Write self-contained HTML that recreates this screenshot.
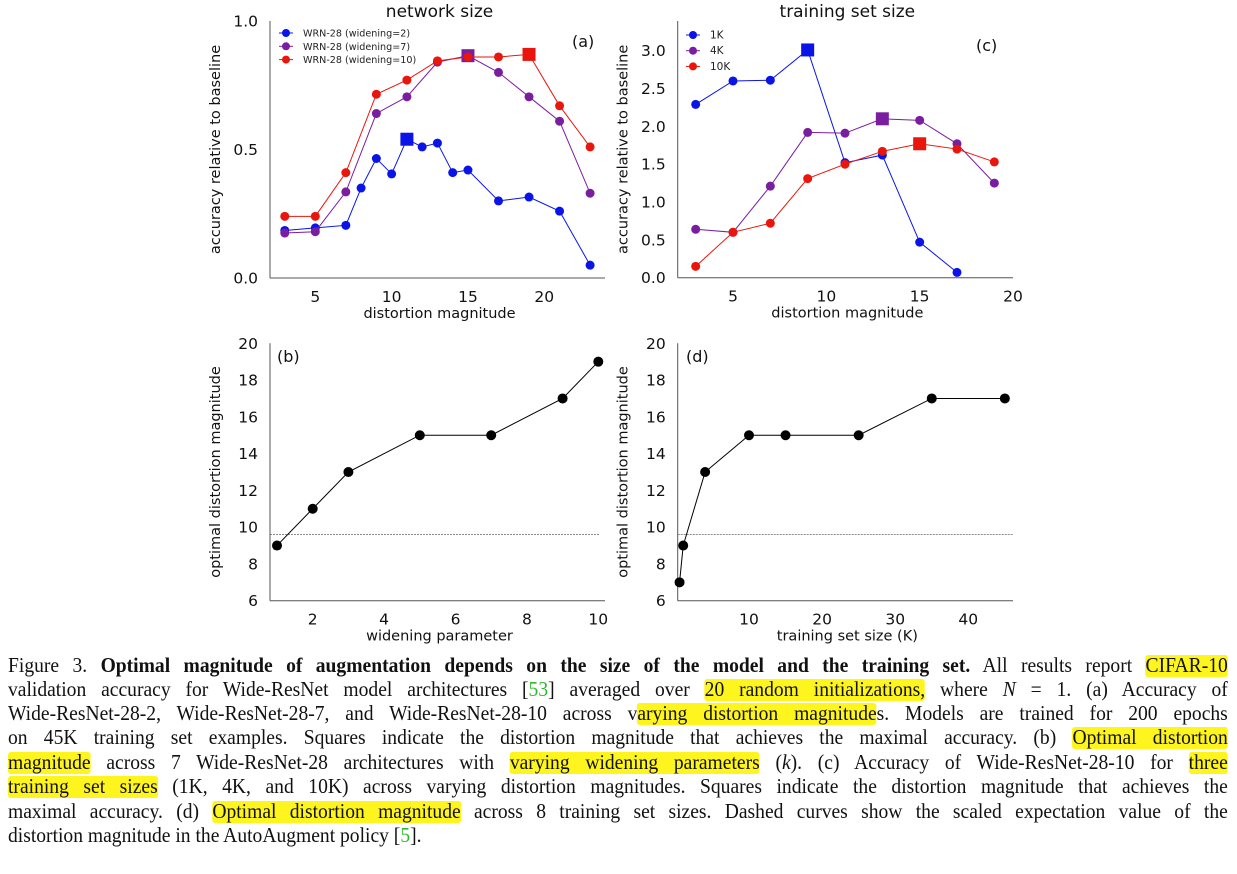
<!DOCTYPE html>
<html><head><meta charset="utf-8">
<style>
body{margin:0;background:#fff;width:1237px;height:874px;overflow:hidden;position:relative}
svg{position:absolute;left:0;top:0}
.cap{position:absolute;left:8px;width:1284px;transform:scaleX(0.95);transform-origin:0 0;font-family:"Liberation Serif",serif;font-size:20.6px;line-height:24px;height:24px;text-align:justify;text-align-last:justify;white-space:nowrap;color:#111}
.cap.last{text-align-last:left}
.hl{background:#fff51e;border-radius:3px}
.g{color:#2dbb2d}
</style></head><body>
<svg id="fig" width="1237" height="650" font-family="DejaVu Sans, Liberation Sans, sans-serif"></svg>

<div class="cap" style="top:654px">Figure 3. <b>Optimal magnitude of augmentation depends on the size of the model and the training set.</b> All results report <span class="hl">CIFAR-10</span></div>
<div class="cap" style="top:678px">validation accuracy for Wide-ResNet model architectures [<span class="g">53</span>] averaged over <span class="hl">20 random initializations,</span> where <i>N</i> = 1. (a) Accuracy of</div>
<div class="cap" style="top:702px">Wide-ResNet-28-2, Wide-ResNet-28-7, and Wide-ResNet-28-10 across v<span class="hl">arying distortion magnitude</span>s. Models are trained for 200 epochs</div>
<div class="cap" style="top:726px">on 45K training set examples. Squares indicate the distortion magnitude that achieves the maximal accuracy. (b) <span class="hl">Optimal distortion</span></div>
<div class="cap" style="top:751px"><span class="hl">magnitude</span> across 7 Wide-ResNet-28 architectures with <span class="hl">varying widening parameters</span> (<i>k</i>). (c) Accuracy of Wide-ResNet-28-10 for <span class="hl">three</span></div>
<div class="cap" style="top:775px"><span class="hl">training set sizes</span> (1K, 4K, and 10K) across varying distortion magnitudes. Squares indicate the distortion magnitude that achieves the</div>
<div class="cap" style="top:800px">maximal accuracy. (d) <span class="hl">Optimal distortion magnitude</span> across 8 training set sizes. Dashed curves show the scaled expectation value of the</div>
<div class="cap last" style="top:824px">distortion magnitude in the AutoAugment policy [<span class="g">5</span>].</div>

<script>
// ---- Panel (a) data ----
const aX_blue = [3,5,7,8,9,10,11,12,13,14,15,17,19,21,23];
const aY_blue = [0.185,0.195,0.205,0.35,0.465,0.405,0.54,0.51,0.525,0.41,0.42,0.30,0.315,0.26,0.05];
const aX_other = [3,5,7,9,11,13,15,17,19,21,23];
const aY_purple = [0.175,0.18,0.335,0.64,0.705,0.84,0.865,0.80,0.705,0.61,0.33];
const aY_red = [0.24,0.24,0.41,0.715,0.77,0.845,0.86,0.86,0.87,0.67,0.51];
const aBest = [11,15,19];
const aLabels = ["WRN-28 (widening=2)","WRN-28 (widening=7)","WRN-28 (widening=10)"];
const aXTicks = [5,10,15,20];
const aYTicks = [0.0,0.5,1.0];
// ---- Panel (c) data ----
const cX1K = [3,5,7,9,11,13,15,17];
const cY1K = [2.29,2.60,2.61,3.01,1.52,1.62,0.47,0.07];
const cX = [3,5,7,9,11,13,15,17,19];
const cY4K = [0.64,0.60,1.21,1.92,1.91,2.10,2.08,1.77,1.25];
const cY10K = [0.15,0.60,0.72,1.31,1.50,1.67,1.77,1.70,1.53];
const cBest = [9,13,15];
const cLabels = ["1K","4K","10K"];
const cXTicks = [5,10,15,20];
const cYTicks = [0.0,0.5,1.0,1.5,2.0,2.5,3.0];
// ---- Panel (b) data ----
const bX = [1,2,3,5,7,9,10];
const bY = [9,11,13,15,15,17,19];
const bXTicks = [2,4,6,8,10];
const bYTicks = [6,8,10,12,14,16,18,20];
const bDash = 9.6;
// ---- Panel (d) data ----
const dX = [0.5,1,4,10,15,25,35,45];
const dY = [7,9,13,15,15,15,17,17];
const dXTicks = [10,20,30,40];
const dYTicks = [6,8,10,12,14,16,18,20];
const dDash = 9.6;

const NS="http://www.w3.org/2000/svg";
const svg=document.getElementById('fig');
function mk(tag,attrs,parent){const e=document.createElementNS(NS,tag);for(const k in attrs)e.setAttribute(k,attrs[k]);(parent||svg).appendChild(e);return e;}
function lin(d0,d1,r0,r1){return v=>r0+(v-d0)*(r1-r0)/(d1-d0);}
const COL={blue:"#0a14e6",purple:"#7a1ea0",red:"#e8160c"};

function axes(name,L,R,T,B,sx,sy,xt,yt,fmt,xlabel,ylabel,title,tag){
  const g=mk('g',{});
  
  
  mk('line',{x1:L,y1:T,x2:L,y2:B,stroke:'#555','stroke-width':1},g);
  mk('line',{x1:L,y1:B,x2:R,y2:B,stroke:'#555','stroke-width':1},g);
  xt.forEach(v=>{const t=mk('text',{x:sx(v),y:B+24,'font-size':15.5,'text-anchor':'middle',fill:'#111'},g);t.textContent=v;
    });
  yt.forEach(v=>{const t=mk('text',{x:L-12,y:sy(v)+5.5,'font-size':15.5,'text-anchor':'end',fill:'#111'},g);t.textContent=fmt(v);
    });
  const xl=mk('text',{x:(L+R)/2+2,y:B+40,'font-size':14.5,'text-anchor':'middle',fill:'#111'},g);xl.textContent=xlabel;
  
  const yl=mk('text',{x:0,y:0,'font-size':14.5,'text-anchor':'middle',fill:'#111',transform:`translate(${L-50},${(T+B)/2}) rotate(-90)`},g);yl.textContent=ylabel;
  
  if(title){const tt=mk('text',{x:(L+R)/2+2,y:T-4,'font-size':17,'text-anchor':'middle',fill:'#111'},g);tt.textContent=title;
    }
  const tg=mk('text',{x:tag[0],y:tag[1],'font-size':16,fill:'#111'},g);tg.textContent=tag[2];
  
  return g;
}
function series(name,xs,ys,sx,sy,col,best,r){
  const g=mk('g',{});
  
  
  const pts=xs.map((x,i)=>sx(x)+','+sy(ys[i])).join(' ');
  mk('polyline',{points:pts,fill:'none',stroke:col,'stroke-width':1},g);
  xs.forEach((x,i)=>{
    if(best!==null && x===best){
      const s=mk('rect',{x:sx(x)-6.5,y:sy(ys[i])-6.5,width:13,height:13,fill:col},g);
      
    } else {
      const c=mk('circle',{cx:sx(x),cy:sy(ys[i]),r:r,fill:col},g);
      
    }
  });
}
function legend(name,x,y,labels,cols,dy,fs,len){
  const g=mk('g',{});
  
  
  labels.forEach((lb,i)=>{
    const yy=y+i*dy;
    mk('line',{x1:x,y1:yy,x2:x+len,y2:yy,stroke:cols[i],'stroke-width':1},g);
    mk('circle',{cx:x+len/2,cy:yy,r:4,fill:cols[i]},g);
    const t=mk('text',{x:x+len+10,y:yy+3.5,'font-size':fs,fill:'#222'},g);t.textContent=lb;
    
  });
}

// Panel (a)
{const sx=lin(5,20,315.3,544.3), sy=lin(0,1,278,21);
 axes('panel-a-axes',270,605,21,278,sx,sy,aXTicks,aYTicks,v=>v.toFixed(1),'distortion magnitude','accuracy relative to baseline','network size',[572,47,'(a)']);
 series('series-widening-2',aX_blue,aY_blue,sx,sy,COL.blue,aBest[0],4.5);
 series('series-widening-7',aX_other,aY_purple,sx,sy,COL.purple,aBest[1],4.5);
 series('series-widening-10',aX_other,aY_red,sx,sy,COL.red,aBest[2],4.5);
 legend('legend-a',279,33,aLabels,[COL.blue,COL.purple,COL.red],13.3,9.6,14);}
// Panel (c)
{const sx=lin(5,20,733,1013), sy=lin(0,3,277.7,50.7);
 axes('panel-c-axes',677.7,1013,21,277.7,sx,sy,cXTicks,cYTicks,v=>v.toFixed(1),'distortion magnitude','accuracy relative to baseline','training set size',[976,51,'(c)']);
 series('series-1k',cX1K,cY1K,sx,sy,COL.blue,cBest[0],4.5);
 series('series-4k',cX,cY4K,sx,sy,COL.purple,cBest[1],4.5);
 series('series-10k',cX,cY10K,sx,sy,COL.red,cBest[2],4.5);
 legend('legend-c',686,35,cLabels,[COL.blue,COL.purple,COL.red],15.7,10.5,14);}
// Panel (b)
{const sx=lin(2,10,312.7,598.3), sy=lin(6,20,600.7,343.3);
 axes('panel-b-axes',270,605,343.3,600.7,sx,sy,bXTicks,bYTicks,v=>v,'widening parameter','optimal distortion magnitude',null,[277,362,'(b)']);
 const dl=mk('line',{x1:270,x2:600,y1:sy(bDash),y2:sy(bDash),stroke:'#666','stroke-width':0.8,'stroke-dasharray':'2,1'});
 
 series('series-optimal-b',bX,bY,sx,sy,'#000',null,5);}
// Panel (d)
{const sx=lin(10,40,749,968.3), sy=lin(6,20,600.7,343.3);
 axes('panel-d-axes',677.7,1013,343.3,600.7,sx,sy,dXTicks,dYTicks,v=>v,'training set size (K)','optimal distortion magnitude',null,[686,362,'(d)']);
 const dl=mk('line',{x1:677.7,x2:1013,y1:sy(dDash),y2:sy(dDash),stroke:'#666','stroke-width':0.8,'stroke-dasharray':'2,1'});
 
 series('series-optimal-d',dX,dY,sx,sy,'#000',null,5);}
</script>
</body></html>
